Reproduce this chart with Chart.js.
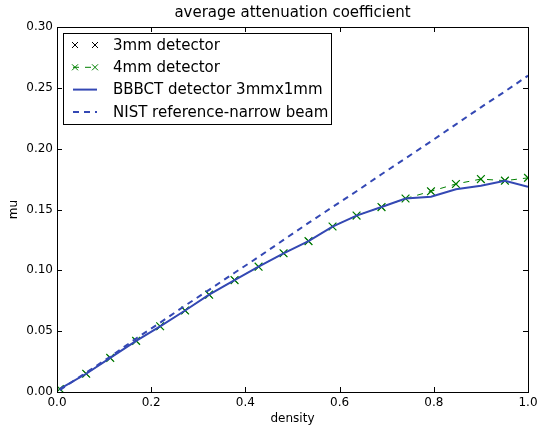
<!DOCTYPE html>
<html>
<head>
<meta charset="utf-8">
<script src="https://cdn.jsdelivr.net/npm/chart.js@4/dist/chart.umd.min.js"></script>
<style>
  html, body { margin: 0; padding: 0; background: #fff; }
</style>
</head>
<body>
<canvas id="chart" width="543" height="428"></canvas>
<script>
// density values of the phantoms
const density = [0.006, 0.062, 0.113, 0.168, 0.219, 0.272, 0.323, 0.377, 0.428, 0.481,
                 0.534, 0.585, 0.636, 0.689, 0.740, 0.794, 0.847, 0.900, 0.951, 1.000];
// measured mu
const mu3mm = [0.0025, 0.015, 0.028, 0.042, 0.054, 0.067, 0.080, 0.092, 0.103, 0.114,
               0.124, 0.136, 0.145, 0.152, 0.159, 0.165, 0.171, 0.175, 0.1737, 0.176];
const mu4mm = [0.0025, 0.015, 0.028, 0.042, 0.054, 0.067, 0.080, 0.092, 0.103, 0.114,
               0.124, 0.136, 0.145, 0.152, 0.159, 0.165, 0.171, 0.175, 0.1737, 0.176];
const muBBBCT = [0.0025, 0.015, 0.028, 0.042, 0.054, 0.067, 0.080, 0.092, 0.103, 0.114,
                 0.124, 0.136, 0.145, 0.152, 0.159, 0.1605, 0.1666, 0.1695, 0.1737, 0.1687];
const muNIST = [0.0016, 0.016, 0.029, 0.044, 0.057, 0.071, 0.084, 0.098, 0.111, 0.125,
                0.139, 0.152, 0.165, 0.179, 0.192, 0.206, 0.220, 0.234, 0.247, 0.260];

const xTicks = [0.0, 0.2, 0.4, 0.6, 0.8, 1.0];
const yTicks = [0.00, 0.05, 0.10, 0.15, 0.20, 0.25, 0.30];

const BLUE = "rgb(52,72,180)";
const GREEN = "rgb(0,128,0)";
const FONT = "'DejaVu Sans', sans-serif";

const pts = (ys) => density.map((d, i) => ({ x: d, y: ys[i] }));

// box + inward ticks on all four sides (classic matplotlib look)
const framePlugin = {
  id: "frame",
  afterDatasetsDraw(chart) {
    const { ctx, chartArea: a, scales } = chart;
    ctx.save();
    ctx.strokeStyle = "#000";
    ctx.lineWidth = 1;
    ctx.beginPath();
    xTicks.forEach(v => {
      const px = Math.round(scales.x.getPixelForValue(v)) + 0.5;
      ctx.moveTo(px, a.bottom); ctx.lineTo(px, a.bottom - 5);
      ctx.moveTo(px, a.top); ctx.lineTo(px, a.top + 5);
    });
    yTicks.forEach(v => {
      const py = Math.round(scales.y.getPixelForValue(v)) + 0.5;
      ctx.moveTo(a.left, py); ctx.lineTo(a.left + 5, py);
      ctx.moveTo(a.right, py); ctx.lineTo(a.right - 5, py);
    });
    ctx.stroke();
    ctx.strokeRect(Math.round(a.left) + 0.5, Math.round(a.top) + 0.5,
                   Math.round(a.right - a.left), Math.round(a.bottom - a.top));
    ctx.restore();
  }
};

function drawX(ctx, x, y, r, color) {
  ctx.strokeStyle = color;
  ctx.lineWidth = 1;
  ctx.setLineDash([]);
  ctx.beginPath();
  ctx.moveTo(x - r, y - r); ctx.lineTo(x + r, y + r);
  ctx.moveTo(x - r, y + r); ctx.lineTo(x + r, y - r);
  ctx.stroke();
}

// legend box in the upper-left of the axes
const legendPlugin = {
  id: "boxLegend",
  afterDraw(chart) {
    const { ctx, chartArea: a } = chart;
    const ds = chart.data.datasets;
    const bx = a.left + 6, by = a.top + 6, bw = 268, bh = 91;
    ctx.save();
    ctx.fillStyle = "#fff";
    ctx.fillRect(bx, by, bw, bh);
    ctx.strokeStyle = "#000";
    ctx.lineWidth = 1;
    ctx.strokeRect(bx + 0.5, by + 0.5, bw, bh);
    const h0 = bx + 10, h1 = bx + 34;
    ctx.font = "15px " + FONT;
    ctx.textBaseline = "middle";
    ctx.fillStyle = "#000";
    ds.forEach((d, i) => {
      const cy = by + 12 + i * 22.3;
      if (i === 0) {
        drawX(ctx, h0 + 2, cy, 3, "#000");
        drawX(ctx, h1 - 2, cy, 3, "#000");
      } else if (i === 1) {
        ctx.strokeStyle = GREEN; ctx.lineWidth = 1; ctx.setLineDash([6, 6]);
        ctx.beginPath(); ctx.moveTo(h0, cy); ctx.lineTo(h1, cy); ctx.stroke();
        drawX(ctx, h0 + 2, cy, 3, GREEN);
        drawX(ctx, h1 - 2, cy, 3, GREEN);
      } else {
        ctx.strokeStyle = BLUE; ctx.lineWidth = 2;
        ctx.setLineDash(i === 3 ? [6, 5] : []);
        ctx.beginPath(); ctx.moveTo(h0, cy); ctx.lineTo(h1, cy); ctx.stroke();
      }
      ctx.setLineDash([]);
      ctx.fillStyle = "#000";
      ctx.fillText(d.label, bx + 50, cy + 1);
    });
    ctx.restore();
  }
};

new Chart(document.getElementById("chart"), {
  type: "line",
  data: {
    datasets: [
      {
        label: "3mm detector", data: pts(mu3mm), order: 4,
        showLine: false, pointStyle: "crossRot", pointRadius: 4.5,
        borderColor: "#000", backgroundColor: "#000", pointBorderWidth: 1
      },
      {
        label: "4mm detector", data: pts(mu4mm), order: 3,
        borderColor: GREEN, backgroundColor: GREEN, borderWidth: 1, borderDash: [6, 6],
        pointStyle: "crossRot", pointRadius: 5.5, pointBorderWidth: 1.2
      },
      {
        label: "BBBCT detector 3mmx1mm", data: pts(muBBBCT), order: 2,
        borderColor: BLUE, borderWidth: 2, pointRadius: 0
      },
      {
        label: "NIST reference-narrow beam", data: pts(muNIST), order: 1,
        borderColor: BLUE, borderWidth: 2, borderDash: [6, 5], pointRadius: 0
      }
    ]
  },
  options: {
    responsive: false,
    animation: false,
    devicePixelRatio: 1,
    layout: { padding: { left: 0, right: 15, top: 0, bottom: 0 } },
    plugins: {
      legend: { display: false },
      tooltip: { enabled: false },
      title: {
        display: true,
        fullSize: false,
        text: "average attenuation coefficient",
        color: "#000",
        font: { family: FONT, size: 15, weight: "normal" },
        padding: { top: 4, bottom: 5 }
      }
    },
    scales: {
      x: {
        type: "linear", min: 0, max: 1,
        grid: { display: false, drawTicks: false },
        border: { display: false },
        afterBuildTicks: s => { s.ticks = xTicks.map(v => ({ value: v })); },
        afterFit: s => { s.height = 36; },
        ticks: {
          color: "#000", padding: 4, maxRotation: 0,
          font: { family: FONT, size: 12 },
          callback: v => Number(v).toFixed(1)
        },
        title: {
          display: true, text: "density", color: "#000",
          font: { family: FONT, size: 12 },
          padding: { top: 0, bottom: 2 }
        }
      },
      y: {
        type: "linear", min: 0, max: 0.30,
        grid: { display: false, drawTicks: false },
        border: { display: false },
        afterBuildTicks: s => { s.ticks = yTicks.map(v => ({ value: v })); },
        afterFit: s => { s.width = 57; },
        ticks: {
          color: "#000", padding: 4,
          font: { family: FONT, size: 12 },
          callback: v => Number(v).toFixed(2)
        },
        title: {
          display: true, text: "mu", color: "#000",
          font: { family: FONT, size: 12 },
          padding: { top: 7, bottom: 0 }
        }
      }
    }
  },
  plugins: [framePlugin, legendPlugin]
});
</script>
</body>
</html>
